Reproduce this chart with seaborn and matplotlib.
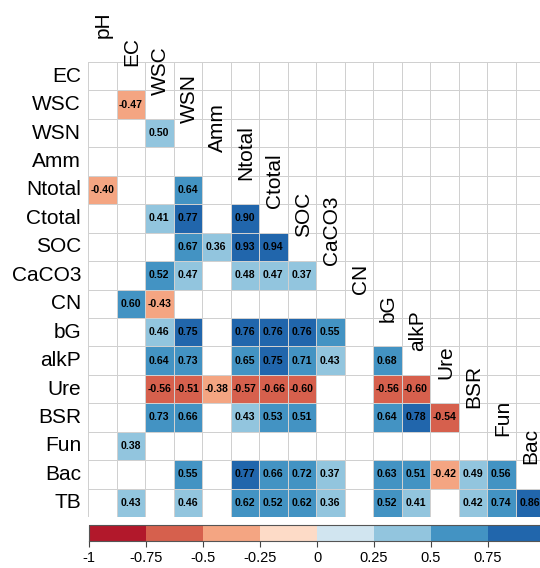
import numpy as np
import pandas as pd
import seaborn as sns
import matplotlib
matplotlib.use("Agg")
import matplotlib.pyplot as plt
from matplotlib.colors import ListedColormap

plt.rcParams['font.family'] = ['Liberation Sans', 'DejaVu Sans']

row_labels = ["EC", "WSC", "WSN", "Amm", "Ntotal", "Ctotal", "SOC", "CaCO3", "CN",
              "bG", "alkP", "Ure", "BSR", "Fun", "Bac", "TB"]
col_labels = ["pH", "EC", "WSC", "WSN", "Amm", "Ntotal", "Ctotal", "SOC", "CaCO3",
              "CN", "bG", "alkP", "Ure", "BSR", "Fun", "Bac"]

n = np.nan
# lower-triangle rows (columns pH .. ), NaN = not significant (blank cell)
r_EC     = [n]
r_WSC    = [n, -0.47]
r_WSN    = [n, n, 0.499]
r_Amm    = [n, n, n, n]
r_Ntotal = [-0.40, n, n, 0.64, n]
r_Ctotal = [n, n, 0.41, 0.77, n, 0.90]
r_SOC    = [n, n, n, 0.67, 0.36, 0.93, 0.94]
r_CaCO3  = [n, n, 0.52, 0.47, n, 0.48, 0.47, 0.37]
r_CN     = [n, 0.60, -0.43, n, n, n, n, n, n]
r_bG     = [n, n, 0.46, 0.75, n, 0.76, 0.76, 0.76, 0.55, n]
r_alkP   = [n, n, 0.64, 0.73, n, 0.65, 0.75, 0.71, 0.43, n, 0.68]
r_Ure    = [n, n, -0.56, -0.51, -0.38, -0.57, -0.66, -0.60, n, n, -0.56, -0.60]
r_BSR    = [n, n, 0.73, 0.66, n, 0.43, 0.53, 0.51, n, n, 0.64, 0.78, -0.54]
r_Fun    = [n, 0.38, n, n, n, n, n, n, n, n, n, n, n, n]
r_Bac    = [n, n, n, 0.55, n, 0.77, 0.66, 0.72, 0.37, n, 0.63, 0.51, -0.42, 0.49, 0.56]
r_TB     = [n, 0.43, n, 0.46, n, 0.62, 0.52, 0.62, 0.36, n, 0.52, 0.41, n, 0.42, 0.74, 0.86]

rows = [r_EC, r_WSC, r_WSN, r_Amm, r_Ntotal, r_Ctotal, r_SOC, r_CaCO3, r_CN,
        r_bG, r_alkP, r_Ure, r_BSR, r_Fun, r_Bac, r_TB]

N = len(row_labels)
mat = np.full((N, N), np.nan)
for i, r in enumerate(rows):
    mat[i, :len(r)] = r
df = pd.DataFrame(mat, index=row_labels, columns=col_labels)

upper = np.triu(np.ones((N, N), dtype=bool), k=1)
base = pd.DataFrame(np.ones((N, N)), index=row_labels, columns=col_labels)

colors8 = ["#B2182B", "#D6604D", "#F4A582", "#FDDBC7",
           "#D1E5F0", "#92C5DE", "#4393C3", "#2166AC"]
cmap8 = ListedColormap(colors8)

fig = plt.figure(figsize=(5.4, 5.68), dpi=100)
ax = fig.add_axes([88 / 540, 1 - 517 / 568, 456 / 540, 455 / 568])
cax = fig.add_axes([89 / 540, 1 - 541 / 568, 456 / 540, 16 / 568])

line_c = "#d0d0d0"
sns.heatmap(base, mask=upper, cmap=ListedColormap(["white"]), cbar=False,
            linewidths=0.6, linecolor=line_c, ax=ax,
            xticklabels=False, yticklabels=row_labels)

ticks = [-1, -0.75, -0.5, -0.25, 0, 0.25, 0.5, 0.75, 1]
tick_labels = ["-1", "-0.75", "-0.5", "-0.25", "0", "0.25", "0.5", "0.75", ""]
sns.heatmap(df, mask=upper | np.isnan(mat), cmap=cmap8, vmin=-1, vmax=1,
            annot=True, fmt=".2f",
            annot_kws={"color": "black", "fontsize": 7.6, "fontweight": "bold"},
            linewidths=0.6, linecolor=line_c, ax=ax, cbar_ax=cax,
            cbar_kws={"orientation": "horizontal", "ticks": ticks},
            xticklabels=False, yticklabels=row_labels)

ax.tick_params(axis="y", length=0, pad=5, labelsize=15, rotation=0)
ax.tick_params(axis="x", length=0)
ax.set_xlabel("")
ax.set_ylabel("")

for j, lab in enumerate(col_labels):
    ax.text(j + 0.55, j - 0.85, lab, rotation=90, ha="center", va="bottom",
            fontsize=15, clip_on=False)

cax.set_xticks(ticks)
cax.set_xticklabels(tick_labels)
cax.tick_params(axis="x", length=4, width=0.8, color="#444444", pad=3, labelsize=10.5)
cbar = ax.collections[-1].colorbar
cbar.outline.set_edgecolor("#555555")
cbar.outline.set_linewidth(0.8)

fig.savefig("out.png", dpi=100)
